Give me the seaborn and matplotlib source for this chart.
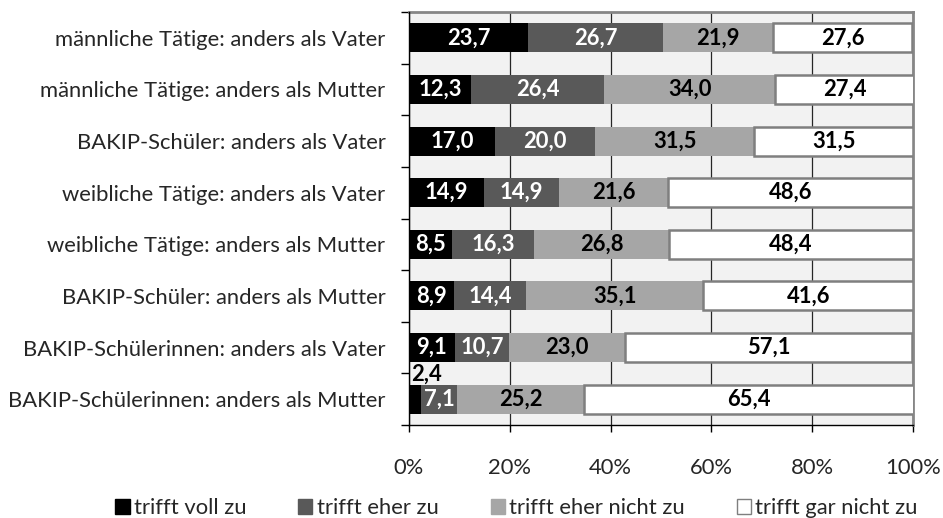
import numpy as np
import pandas as pd
import matplotlib
matplotlib.use("Agg")
import matplotlib.pyplot as plt
from matplotlib.patches import Patch
from matplotlib.ticker import FixedLocator
import seaborn as sns

# Categories (top to bottom) and the four answer shares in percent
categories = [
    "männliche Tätige: anders als Vater",
    "männliche Tätige: anders als Mutter",
    "BAKIP-Schüler: anders als Vater",
    "weibliche Tätige: anders als Vater",
    "weibliche Tätige: anders als Mutter",
    "BAKIP-Schüler: anders als Mutter",
    "BAKIP-Schülerinnen: anders als Vater",
    "BAKIP-Schülerinnen: anders als Mutter",
]
series_names = ["trifft voll zu", "trifft eher zu", "trifft eher nicht zu", "trifft gar nicht zu"]
voll = [23.7, 12.3, 17.0, 14.9, 8.5, 8.9, 9.1, 2.4]
eher = [26.7, 26.4, 20.0, 14.9, 16.3, 14.4, 10.7, 7.1]
eher_nicht = [21.9, 34.0, 31.5, 21.6, 26.8, 35.1, 23.0, 25.2]
gar_nicht = [27.6, 27.4, 31.5, 48.6, 48.4, 41.6, 57.1, 65.4]
x_ticks = [0, 20, 40, 60, 80, 100]
x_tick_labels = ["0%", "20%", "40%", "60%", "80%", "100%"]

fills = ["#000000", "#595959", "#a6a6a6", "#ffffff"]
text_colors = ["white", "white", "black", "black"]
edge_gray = "#7f7f7f"

sns.set_style("white")
plt.rcParams["font.family"] = ["Lato", "DejaVu Sans"]
FS = 15.8

fig = plt.figure(figsize=(9.43, 5.18), dpi=100)
W, H = 943, 518
ax = fig.add_axes([409 / W, 1 - 425 / H, (913 - 409) / W, (425 - 12) / H])
ax.set_facecolor("#f2f2f2")

values = [voll, eher, eher_nicht, gar_nicht]
left = np.zeros(len(categories))
for name, vals, fc, tc in zip(series_names, values, fills, text_colors):
    df = pd.DataFrame({"Kategorie": categories, "Anteil": vals})
    is_white = fc == "#ffffff"
    sns.barplot(
        data=df, x="Anteil", y="Kategorie", order=categories, orient="h",
        color=fc, saturation=1, width=0.56, left=left.copy(),
        edgecolor=edge_gray if is_white else fc,
        linewidth=1.8 if is_white else 0,
        ax=ax, zorder=3, errorbar=None,
    )
    for i, v in enumerate(vals):
        txt = f"{v:.1f}".replace(".", ",")
        if v < 4:
            ax.text(left[i] + 0.4, i - 0.48, txt, ha="left", va="center",
                    fontsize=FS, fontweight="bold", color="black", zorder=5)
        else:
            ax.text(left[i] + v / 2, i, txt, ha="center", va="center",
                    fontsize=FS, fontweight="bold", color=tc, zorder=5)
    left = left + np.array(vals)

ax.set_xlim(0, 100)
ax.set_ylim(len(categories) - 0.5, -0.5)
ax.set_xlabel("")
ax.set_ylabel("")

ax.set_xticks(x_ticks)
ax.set_xticklabels(x_tick_labels, fontsize=FS)
ax.tick_params(axis="x", direction="out", length=5, width=1, color="black",
               pad=19, bottom=True)
ax.set_yticks(range(len(categories)))
ax.set_yticklabels(categories, fontsize=FS)
ax.tick_params(axis="y", which="major", length=0, pad=17)
ax.yaxis.set_minor_locator(FixedLocator(np.arange(-0.5, len(categories), 1.0)))
ax.tick_params(axis="y", which="minor", direction="out", length=6, width=1,
               color="black", left=True)

ax.xaxis.grid(True, color="#262626", linewidth=0.9, zorder=0)
ax.yaxis.grid(False)
ax.set_axisbelow(True)

for side in ("top", "right"):
    ax.spines[side].set_color("#868686")
    ax.spines[side].set_linewidth(2)
for side in ("left", "bottom"):
    ax.spines[side].set_color("black")
    ax.spines[side].set_linewidth(1)
    ax.spines[side].set_zorder(6)

handles = [Patch(facecolor=fc, edgecolor=(edge_gray if fc == "#ffffff" else fc), linewidth=1)
           for fc in fills]
fig.legend(handles, series_names, loc="center", bbox_to_anchor=(516.5 / W, 1 - 508 / H),
           ncol=4, frameon=False, fontsize=FS, handlelength=0.64, handleheight=0.64,
           handletextpad=0.2, columnspacing=2.37, borderpad=0, borderaxespad=0)

fig.savefig("out.png", dpi=100)
